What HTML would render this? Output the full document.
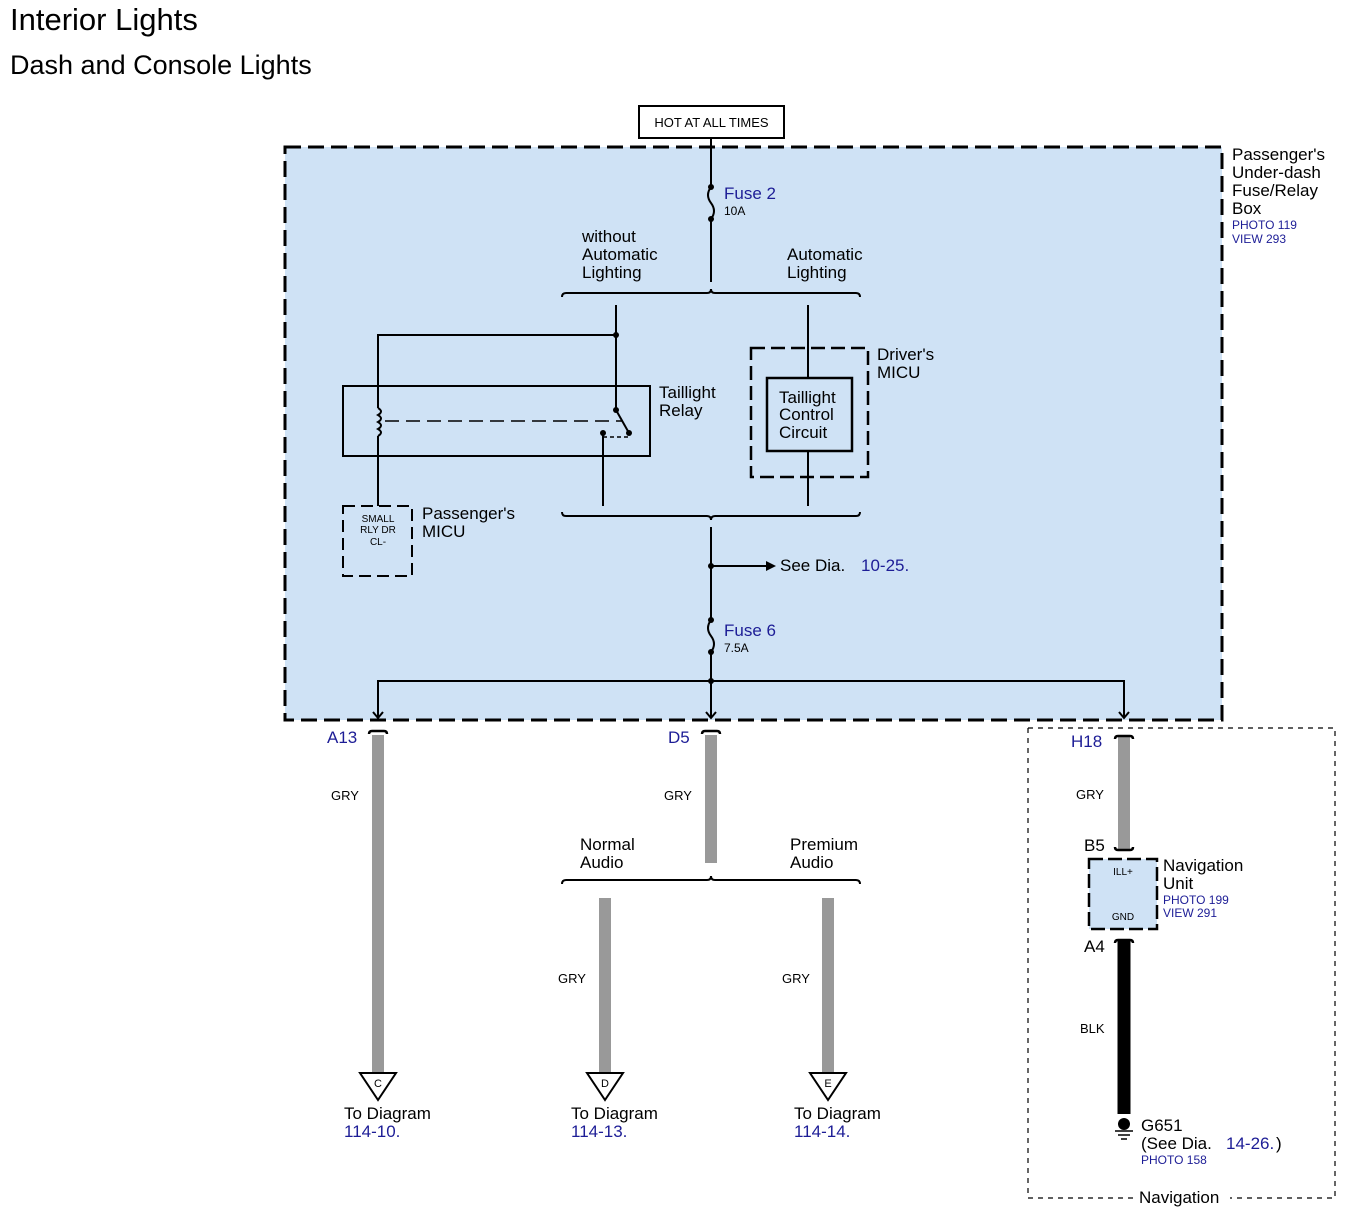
<!DOCTYPE html>
<html><head><meta charset="utf-8"><style>
body{margin:0;background:#fff}
svg{display:block;font-family:"Liberation Sans",sans-serif}
.b{fill:#1d1d96}
</style></head><body>
<svg width="1350" height="1214" viewBox="0 0 1350 1214" xmlns="http://www.w3.org/2000/svg">
<text x="10" y="30" font-size="31">Interior Lights</text>
<text x="10" y="74" font-size="27">Dash and Console Lights</text>

<rect x="285" y="147" width="937" height="573" fill="#cfe2f5" stroke="#000" stroke-width="3" stroke-dasharray="16,7"/>
<rect x="639" y="106" width="145" height="32" fill="#fff" stroke="#000" stroke-width="2"/>
<text x="711.5" y="127" font-size="13" text-anchor="middle">HOT AT ALL TIMES</text>

<text x="1232" y="160" font-size="17">Passenger's</text>
<text x="1232" y="178" font-size="17">Under-dash</text>
<text x="1232" y="196" font-size="17">Fuse/Relay</text>
<text x="1232" y="214" font-size="17">Box</text>
<text x="1232" y="229" font-size="12" class="b">PHOTO 119</text>
<text x="1232" y="243" font-size="12" class="b">VIEW 293</text>

<g stroke="#000" stroke-width="2" fill="none">
<line x1="711" y1="138" x2="711" y2="187"/>
<path d="M711 187 q-6 8 0 16 q6 8 0 16"/>
<line x1="711" y1="219" x2="711" y2="282"/>
<path d="M562 297 q0 -4 4 -4 L707 293 q4 0 4 -4 q0 4 4 4 L856 293 q4 0 4 4"/>
<path d="M562 512 q0 4 4 4 L707 516 q4 0 4 4 q0 -4 4 -4 L856 516 q4 0 4 -4"/>
<line x1="616" y1="305" x2="616" y2="410"/>
<polyline points="616,335 378,335 378,408"/>
<path d="M378 408 q6 3.5 0 7 q6 3.5 0 7 q6 3.5 0 7 q6 3.5 0 7"/>
<line x1="378" y1="436" x2="378" y2="506"/>
<rect x="343" y="386" width="307" height="70"/>
<line x1="385" y1="421" x2="622" y2="421" stroke-dasharray="14,7" stroke-width="1.5"/>
<line x1="616" y1="410" x2="629" y2="433"/>
<line x1="603" y1="437" x2="629" y2="437" stroke-dasharray="4,3" stroke-width="1.5"/>
<line x1="603" y1="433" x2="603" y2="506"/>
<rect x="343" y="506" width="69" height="70" stroke-dasharray="12,6"/>
<line x1="808" y1="305" x2="808" y2="378"/>
<rect x="751" y="348" width="117" height="129" stroke-dasharray="14,6" stroke-width="2.5"/>
<rect x="767" y="378" width="85" height="73" stroke-width="2.5"/>
<line x1="808" y1="451" x2="808" y2="506"/>
<line x1="711" y1="527" x2="711" y2="620"/>
<line x1="711" y1="566" x2="770" y2="566"/>
<path d="M711 620 q-6 8 0 16 q6 8 0 16"/>
<line x1="711" y1="652" x2="711" y2="718"/>
<polyline points="378,718 378,681 1124,681 1124,718"/>
<polyline points="373,712 378,718 383,712"/>
<polyline points="706,712 711,718 716,712"/>
<polyline points="1119,712 1124,718 1129,712"/>
</g>
<polygon points="776,566 766,561 766,571" fill="#000"/>
<g fill="#000">
<circle cx="711" cy="187" r="3"/><circle cx="711" cy="219" r="3"/>
<circle cx="616" cy="335" r="3"/><circle cx="616" cy="410" r="3"/>
<circle cx="629" cy="433" r="3"/><circle cx="603" cy="433" r="3"/>
<circle cx="711" cy="566" r="3"/><circle cx="711" cy="620" r="3"/>
<circle cx="711" cy="652" r="3"/><circle cx="711" cy="681" r="3"/>
</g>
<text x="724" y="199" font-size="17" class="b">Fuse 2</text>
<text x="724" y="215" font-size="12">10A</text>
<text x="724" y="636" font-size="17" class="b">Fuse 6</text>
<text x="724" y="652" font-size="12">7.5A</text>
<g font-size="17">
<text x="582" y="242">without</text><text x="582" y="260">Automatic</text><text x="582" y="278">Lighting</text>
<text x="787" y="260">Automatic</text><text x="787" y="278">Lighting</text>
<text x="659" y="398">Taillight</text><text x="659" y="416">Relay</text>
<text x="877" y="360">Driver's</text><text x="877" y="378">MICU</text>
<text x="779" y="403">Taillight</text><text x="779" y="420">Control</text><text x="779" y="438">Circuit</text>
<text x="422" y="519">Passenger's</text><text x="422" y="537">MICU</text>
<text x="780" y="571">See Dia.</text><text x="861" y="571" class="b">10-25.</text>
</g>
<g font-size="10" text-anchor="middle">
<text x="378" y="522">SMALL</text><text x="378" y="533">RLY DR</text><text x="378" y="545">CL-</text>
</g>

<g stroke="#999" stroke-width="12">
<line x1="378" y1="735" x2="378" y2="1072"/>
<line x1="711" y1="735" x2="711" y2="863"/>
<line x1="605" y1="898" x2="605" y2="1072"/>
<line x1="828" y1="898" x2="828" y2="1072"/>
<line x1="1124" y1="735" x2="1124" y2="850"/>
</g>
<line x1="1124" y1="940" x2="1124" y2="1114" stroke="#000" stroke-width="13"/>
<g stroke="#000" stroke-width="2.5" fill="none">
<path d="M369 734 q0 -3 3 -3 h12 q3 0 3 3"/>
<path d="M702 734 q0 -3 3 -3 h12 q3 0 3 3"/>
<path d="M1115 739 q0 -3 3 -3 h12 q3 0 3 3"/>
<path d="M1115 847 q0 3 3 3 h12 q3 0 3 -3"/>
<path d="M1115 943 q0 -3 3 -3 h12 q3 0 3 3"/>
<path d="M562 884 q0 -4 4 -4 L707 880 q4 0 4 -4 q0 4 4 4 L856 880 q4 0 4 4" stroke-width="2"/>
</g>
<g fill="#fff" stroke="#000" stroke-width="2">
<polygon points="360,1073 396,1073 378,1100"/>
<polygon points="587,1073 623,1073 605,1100"/>
<polygon points="810,1073 846,1073 828,1100"/>
</g>
<g font-size="11" text-anchor="middle">
<text x="378" y="1087">C</text><text x="605" y="1087">D</text><text x="828" y="1087">E</text>
</g>
<g font-size="17">
<text x="327" y="743" class="b">A13</text>
<text x="668" y="743" class="b">D5</text>
<text x="1071" y="747" class="b">H18</text>
<text x="580" y="850">Normal</text><text x="580" y="868">Audio</text>
<text x="790" y="850">Premium</text><text x="790" y="868">Audio</text>
<text x="344" y="1119">To Diagram</text><text x="344" y="1137" class="b">114-10.</text>
<text x="571" y="1119">To Diagram</text><text x="571" y="1137" class="b">114-13.</text>
<text x="794" y="1119">To Diagram</text><text x="794" y="1137" class="b">114-14.</text>
<text x="1084" y="851">B5</text>
<text x="1084" y="952">A4</text>
<text x="1163" y="871">Navigation</text><text x="1163" y="889">Unit</text>
<text x="1141" y="1131">G651</text>
<text x="1141" y="1149">(See Dia.</text><text x="1226" y="1149" class="b">14-26.</text><text x="1276" y="1149">)</text>
<text x="1139" y="1203">Navigation</text>
</g>
<g font-size="13">
<text x="331" y="800">GRY</text><text x="664" y="800">GRY</text>
<text x="558" y="983">GRY</text><text x="782" y="983">GRY</text>
<text x="1076" y="799">GRY</text><text x="1080" y="1033">BLK</text>
</g>
<text x="1163" y="904" font-size="12" class="b">PHOTO 199</text>
<text x="1163" y="917" font-size="12" class="b">VIEW 291</text>
<text x="1141" y="1164" font-size="12" class="b">PHOTO 158</text>

<rect x="1089" y="859" width="68" height="70" fill="#cfe2f5" stroke="#000" stroke-width="2.5" stroke-dasharray="14,5"/>
<text x="1123" y="875" font-size="10" text-anchor="middle">ILL+</text>
<text x="1123" y="920" font-size="10" text-anchor="middle">GND</text>
<circle cx="1124" cy="1124" r="6" fill="#000"/>
<g stroke="#000" stroke-width="1.5">
<line x1="1115" y1="1131" x2="1133" y2="1131"/>
<line x1="1118" y1="1135" x2="1130" y2="1135"/>
<line x1="1121" y1="1139" x2="1127" y2="1139"/>
</g>
<path d="M1028 728 H1335 V1198 H1230 M1133 1198 H1028 V728" fill="none" stroke="#000" stroke-width="1.2" stroke-dasharray="5,5"/>
</svg>
</body></html>
